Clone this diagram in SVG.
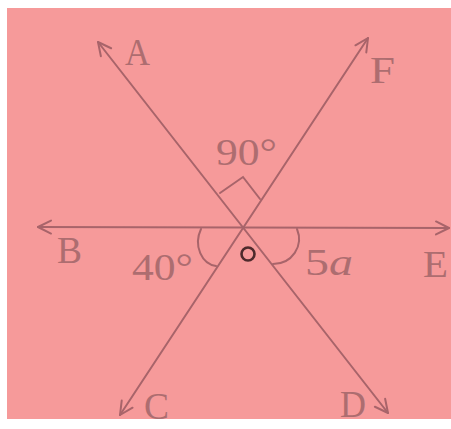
<svg xmlns="http://www.w3.org/2000/svg" width="451" height="429" viewBox="0 0 451 429">
<defs>
<style>
.ln{stroke:#a8646a;stroke-width:2;fill:none;stroke-linecap:round}
.lb{font-family:"Liberation Serif","DejaVu Serif",serif;fill:#ad6d70;font-size:37px}
</style>
<marker id="ar" viewBox="-15 -9 17 18" refX="0" refY="0" markerWidth="17" markerHeight="18" markerUnits="userSpaceOnUse" orient="auto-start-reverse">
<path d="M-13,-6.5 L0,0 L-13,6.5" fill="none" stroke="#a8646a" stroke-width="2" stroke-linecap="round" stroke-linejoin="round"/>
</marker>
</defs>
<rect width="451" height="429" fill="#ffffff"/>
<rect x="7" y="8" width="444" height="411" fill="#f69a9a"/>
<g id="connectors">
<line class="ln" x1="98" y1="42" x2="388" y2="413" marker-start="url(#ar)" marker-end="url(#ar)"/>
<line class="ln" x1="120" y1="415" x2="368" y2="38" marker-start="url(#ar)" marker-end="url(#ar)"/>
<line class="ln" x1="38" y1="227" x2="449" y2="228" marker-start="url(#ar)" marker-end="url(#ar)"/>
<polyline class="ln" points="220,193 243,177 260,199"/>
<path class="ln" d="M201,229 C193,246 202,264 216,266"/>
<path class="ln" d="M297,229 C304,246 292,264 273,264"/>
</g>
<circle id="O" cx="248" cy="254" r="6.5" fill="none" stroke="#4e2a2c" stroke-width="2.6"/>
<g id="labels">
<text class="lb" x="125" y="65" textLength="25" lengthAdjust="spacingAndGlyphs">A</text>
<text class="lb" x="370" y="83" textLength="25" lengthAdjust="spacingAndGlyphs">F</text>
<text class="lb" x="57" y="263" textLength="25" lengthAdjust="spacingAndGlyphs">B</text>
<text class="lb" x="423" y="277" textLength="25" lengthAdjust="spacingAndGlyphs">E</text>
<text class="lb" x="144" y="419" textLength="25" lengthAdjust="spacingAndGlyphs">C</text>
<text class="lb" x="340" y="417" textLength="26" lengthAdjust="spacingAndGlyphs">D</text>
<text class="lb" x="216" y="165" textLength="61" lengthAdjust="spacingAndGlyphs">90°</text>
<text class="lb" x="132" y="280" textLength="61" lengthAdjust="spacingAndGlyphs">40°</text>
<text class="lb" x="305" y="275" textLength="48" lengthAdjust="spacingAndGlyphs">5<tspan font-style="italic">a</tspan></text>
</g>
</svg>
